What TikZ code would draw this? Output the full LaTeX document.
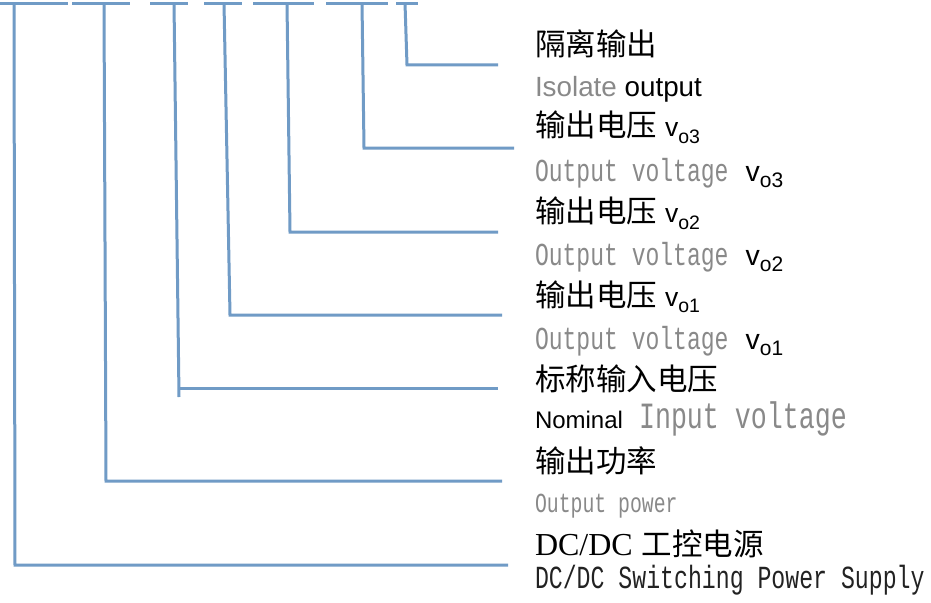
\documentclass[tikz,border=0pt]{standalone}
\usepackage{fontspec}
\newfontfamily\cjk{Noto Sans CJK SC}
\newfontfamily\arial{Liberation Sans}
\newfontfamily\tnr{Liberation Serif}
\newfontfamily\smono[FakeStretch=0.72]{Liberation Mono}
\definecolor{linkblue}{RGB}{112,155,198}
\definecolor{txtgray}{RGB}{137,137,137}
\definecolor{txtdark}{RGB}{34,34,34}
\newcommand\cjkL{\cjk\fontsize{30.5}{36}\selectfont}
\newcommand\voA[1]{{\arial\fontsize{26.5}{30}\selectfont v\raisebox{-6.5pt}{\fontsize{19.5}{22}\selectfont o#1}}}
\newcommand\voB[1]{{\arial\fontsize{28.5}{32}\selectfont v\raisebox{-6pt}{\fontsize{21}{24}\selectfont o#1}}}
\begin{document}
\begin{tikzpicture}[x=1pt,y=-1pt,
  conn/.style={draw=linkblue, line width=3pt, line cap=butt, line join=miter},
  lbl/.style={anchor=base west, inner sep=0pt, outer sep=0pt},
  grayen/.style={lbl, text=txtgray, font=\smono\fontsize{32}{36}\selectfont}]
\useasboundingbox[fill=white] (0,0) rectangle (931,602);
% top code bars
\coordinate (b1l) at (0,3.2);   \coordinate (b1r) at (68,3.2);
\coordinate (b2l) at (72,3.2);  \coordinate (b2r) at (130,3.2);
\coordinate (b3l) at (150,3.2); \coordinate (b3r) at (188,3.2);
\coordinate (b4l) at (204,3.2); \coordinate (b4r) at (242,3.2);
\coordinate (b5l) at (253,3.2); \coordinate (b5r) at (314,3.2);
\coordinate (b6l) at (326,3.2); \coordinate (b6r) at (388,3.2);
\coordinate (b7l) at (396,3.2); \coordinate (b7r) at (418,3.2);
\foreach \i in {1,...,7} {\draw[conn] (b\i l) -- (b\i r);}
% leader tops, corners, ends
\coordinate (v1) at (14,3);  \coordinate (c1) at (15,565);  \coordinate (e1) at (508,565);
\coordinate (v2) at (104,3); \coordinate (c2) at (106,481); \coordinate (e2) at (502,481);
\coordinate (v3) at (174,3); \coordinate (d3) at (179,397); \coordinate (c3) at (178.9,388); \coordinate (e3) at (498,388);
\coordinate (v4) at (224,3); \coordinate (c4) at (230,315); \coordinate (e4) at (502,315);
\coordinate (v5) at (287,3); \coordinate (c5) at (290,232); \coordinate (e5) at (498,232);
\coordinate (v6) at (362,3); \coordinate (c6) at (364,148); \coordinate (e6) at (514,148);
\coordinate (v7) at (405,3); \coordinate (c7) at (407,65);  \coordinate (e7) at (498,65);
\draw[conn] (v1) -- (c1) -- (e1);
\draw[conn] (v2) -- (c2) -- (e2);
\draw[conn] (v3) -- (d3);
\draw[conn] (c3) -- (e3);
\draw[conn] (v4) -- (c4) -- (e4);
\draw[conn] (v5) -- (c5) -- (e5);
\draw[conn] (v6) -- (c6) -- (e6);
\draw[conn] (v7) -- (c7) -- (e7);
% labels
\node[lbl, font=\cjkL] (t1) at (535,55.5) {隔离输出};
\node[lbl, font=\arial\fontsize{27.8}{32}\selectfont] (s1) at (535,96) {\textcolor{txtgray}{Isolate} output};
\node[lbl, font=\cjkL] (t2) at (535,136.5) {输出电压\hspace{8pt}\voA{3}};
\node[grayen] (s2) at (535,181) {Output voltage\hspace{17pt}\textcolor{black}{\voB{3}}};
\node[lbl, font=\cjkL] (t3) at (535,222.5) {输出电压\hspace{8pt}\voA{2}};
\node[grayen] (s3) at (535,265) {Output voltage\hspace{17pt}\textcolor{black}{\voB{2}}};
\node[lbl, font=\cjkL] (t4) at (535,306) {输出电压\hspace{8pt}\voA{1}};
\node[grayen] (s4) at (535,349) {Output voltage\hspace{17pt}\textcolor{black}{\voB{1}}};
\node[lbl, font=\cjkL] (t5) at (535,390) {标称输入电压};
\node[lbl] (s5) at (535,428.5) {{\arial\fontsize{24}{28}\selectfont Nominal}\hspace{16pt}{\smono\fontsize{37}{40}\selectfont\color{txtgray}Input voltage}};
\node[lbl, font=\cjkL] (t6) at (535,472) {输出功率};
\node[lbl, text=txtgray, font=\smono\fontsize{27.5}{32}\selectfont] (s6) at (535,512) {Output power};
\node[lbl] (t7) at (535,555) {{\tnr\fontsize{32}{36}\selectfont DC/DC}\hspace{9pt}{\cjkL 工控电源}};
\node[lbl, text=txtdark, font=\smono\fontsize{32.2}{36}\selectfont] (s7) at (535,588) {DC/DC Switching Power Supply};
\end{tikzpicture}
\end{document}
